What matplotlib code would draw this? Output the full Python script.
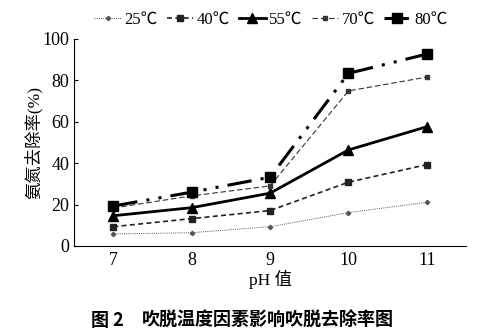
import matplotlib

matplotlib.use("Agg")

import matplotlib.pyplot as plt

plt.rcParams["font.family"] = ["Liberation Serif", "Noto Sans CJK SC", "DejaVu Sans"]

ph = [7, 8, 9, 10, 11]
labels = ["25℃", "40℃", "55℃", "70℃", "80℃"]
removal_25 = [5.8, 6.4, 9.3, 16.1, 21.1]
removal_40 = [9.3, 13.2, 17.1, 30.8, 39.3]
removal_55 = [14.6, 18.5, 25.5, 46.4, 57.6]
removal_70 = [18.3, 24.2, 29.0, 74.9, 81.6]
removal_80 = [19.3, 26.0, 33.2, 83.4, 92.7]

series = [removal_25, removal_40, removal_55, removal_70, removal_80]
styles = [
    dict(color="#555555", linestyle=(0, (1, 1.2)), linewidth=0.7, marker="D", markersize=2.2),
    dict(color="#222222", linestyle=(0, (3, 2)), linewidth=1.2, marker="s", markersize=4.5),
    dict(color="black", linestyle="-", linewidth=2.0, marker="^", markersize=6.5),
    dict(color="#333333", linestyle=(0, (5, 2.5)), linewidth=0.8, marker="s", markersize=3),
    dict(color="black", linestyle=(0, (8, 3, 1, 3, 1, 3)), linewidth=2.2, marker="s", markersize=6.5),
]

fig = plt.figure(figsize=(4.81, 3.36), dpi=100)
ax = fig.add_axes([0.154, 0.268, 0.815, 0.616])

for values, label, style in zip(series, labels, styles):
    ax.plot(ph, values, label=label, **style)

ax.set_xlim(6.5, 11.5)
ax.set_ylim(0, 100)
ax.set_xticks(ph)
ax.set_yticks([0, 20, 40, 60, 80, 100])
ax.spines["top"].set_visible(False)
ax.spines["right"].set_visible(False)
ax.tick_params(direction="in", labelsize=13, length=3, width=0.8)
ax.tick_params(axis="x", length=0, pad=4)
ax.set_xlabel("pH 值", fontsize=12.5, labelpad=1)
ax.set_ylabel("氨氮去除率(%)", fontsize=12.5, labelpad=0)

fig.legend(
    loc="upper center",
    bbox_to_anchor=(0.563, 1.01),
    ncol=5,
    frameon=False,
    fontsize=12,
    handlelength=1.6,
    handletextpad=0.2,
    columnspacing=0.55,
)

cjk = ["Noto Sans CJK SC", "DejaVu Sans"]
fig.text(0.19, 0.03, "图 2", fontsize=13, fontweight="bold", family=cjk)
fig.text(0.295, 0.03, "吹脱温度因素影响吹脱去除率图", fontsize=13, fontweight="bold", family=cjk)

fig.savefig("out.png", dpi=100)
